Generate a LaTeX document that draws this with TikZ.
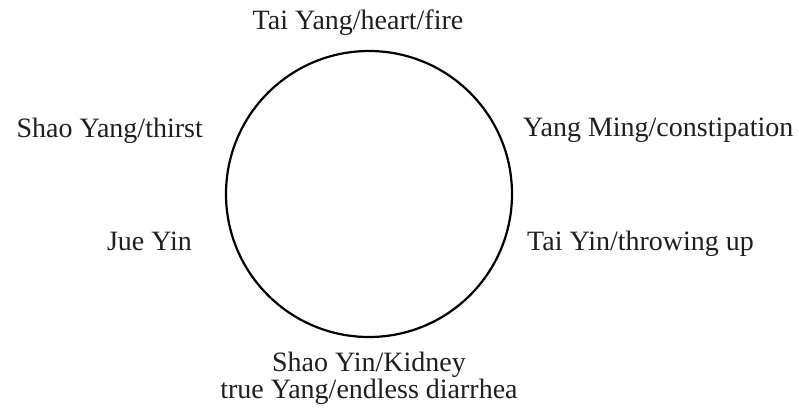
\documentclass[tikz,border=0pt]{standalone}
\usepackage{fontspec}
\setmainfont{Liberation Serif}
\begin{document}
\begin{tikzpicture}[x=1pt,y=-1pt,
  lbl/.style={font=\fontsize{28}{30}\selectfont, inner sep=0pt, text=black!88}]
\useasboundingbox (0,0) rectangle (799,413);
\node[draw, line width=2.2pt, circle, minimum size=286pt, inner sep=0pt] (c) at (369,194) {};
\node[lbl, anchor=base] (top) at (358,29) {Tai Yang/heart/fire};
\node[lbl, anchor=base east] (sy) at (203,137) {Shao Yang/thirst};
\node[lbl, anchor=base west] (ym) at (523,136) {Yang Ming/constipation};
\node[lbl, anchor=base east] (jy) at (192,250) {Jue Yin};
\node[lbl, anchor=base west] (ty) at (527,250) {Tai Yin/throwing up};
\node[lbl, anchor=base] (sk) at (369,371) {Shao Yin/Kidney};
\node[lbl, anchor=base] (sk2) at (369,398) {true Yang/endless diarrhea};
\end{tikzpicture}
\end{document}
